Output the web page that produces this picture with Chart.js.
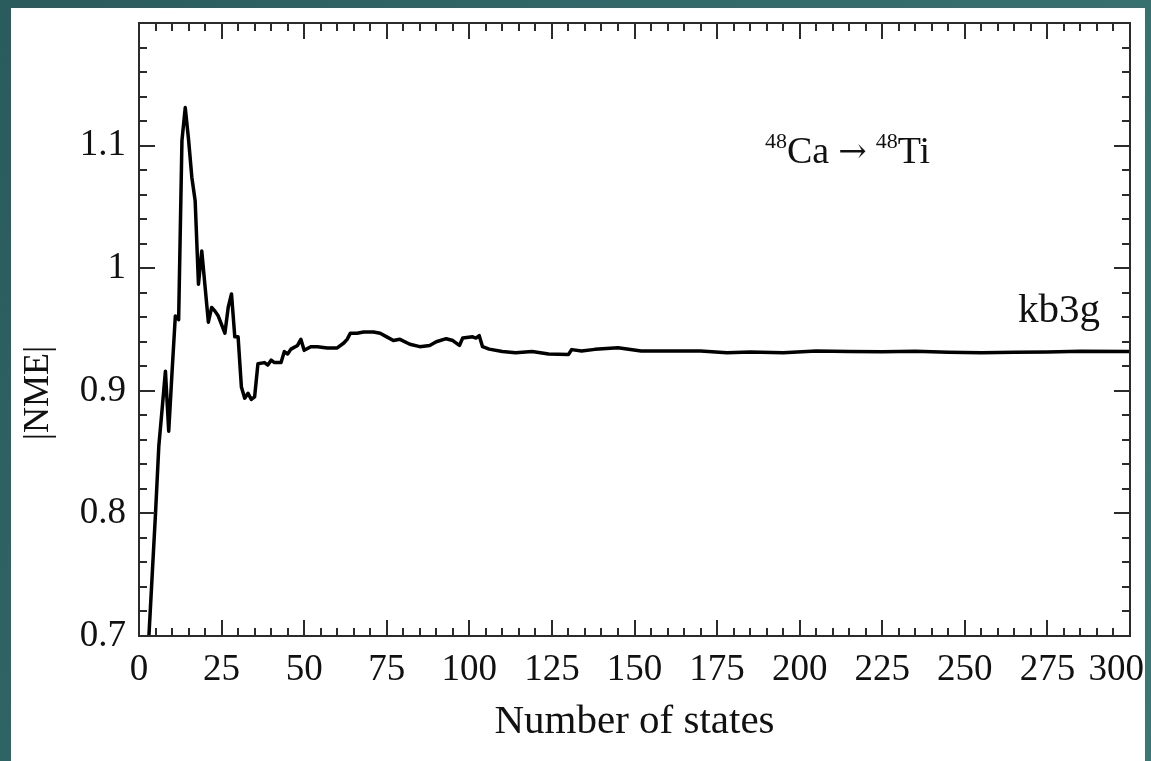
<!DOCTYPE html>
<html>
<head>
<meta charset="utf-8">
<script src="https://cdn.jsdelivr.net/npm/chart.js@4/dist/chart.umd.min.js"></script>
<style>
  html, body { margin: 0; padding: 0; }
  body {
    width: 1151px; height: 761px; overflow: hidden;
    background: linear-gradient(120deg, #2a5b5d 0%, #336b6b 50%, #3c7775 100%);
  }
  #panel { position: absolute; left: 11px; top: 8px; width: 1134px; height: 753px; background: #fff; }
</style>
</head>
<body>
<div id="panel"><canvas id="nmeChart" width="1134" height="753"></canvas></div>
<script>
// number of intermediate states vs |NME| (kb3g, 48Ca -> 48Ti)
var states = [2, 3, 4, 5, 6, 7, 8, 9, 10, 11, 12, 13, 14, 15, 16, 17, 18, 19, 20,
  21, 22, 23, 24, 25, 26, 27, 28, 29, 30, 31, 32, 33, 34, 35, 36, 38, 39, 40, 41,
  43, 44, 45, 46, 48, 49, 50, 52, 54, 57, 60, 62, 63, 64, 66, 68, 71, 73, 75, 77,
  79, 82, 85, 88, 90, 93, 95, 97, 98, 101, 102, 103, 104, 106, 110, 114, 119, 124,
  130, 131, 134, 138, 145, 152, 160, 170, 178, 185, 195, 205, 215, 225, 235, 245,
  255, 265, 275, 285, 300];
var nme = [0.65, 0.70, 0.75, 0.80, 0.855, 0.885, 0.916, 0.867, 0.915, 0.961, 0.958,
  1.104, 1.131, 1.105, 1.074, 1.055, 0.987, 1.014, 0.985, 0.956, 0.968, 0.965, 0.961,
  0.954, 0.947, 0.968, 0.979, 0.944, 0.944, 0.903, 0.894, 0.898, 0.893, 0.895, 0.922,
  0.923, 0.921, 0.925, 0.923, 0.923, 0.932, 0.930, 0.934, 0.937, 0.942, 0.933, 0.936,
  0.936, 0.935, 0.935, 0.939, 0.942, 0.947, 0.947, 0.948, 0.948, 0.947, 0.944, 0.941,
  0.942, 0.938, 0.936, 0.937, 0.940, 0.9425, 0.941, 0.937, 0.943, 0.944, 0.943, 0.945,
  0.936, 0.934, 0.932, 0.931, 0.932, 0.930, 0.9297, 0.9336, 0.9324, 0.9338, 0.9352,
  0.9324, 0.9324, 0.9324, 0.931, 0.9316, 0.931, 0.9325, 0.932, 0.9318, 0.9322, 0.9314,
  0.931, 0.9315, 0.9316, 0.9322, 0.932];

var xMin = 0, xMax = 300, xMajor = 25, xMinor = 5;
var yMin = 0.7, yMax = 1.2, yMajor = 0.1, yMinor = 0.02;

var serif = "'Liberation Serif', 'DejaVu Serif', serif";
var ink = "#2b2b2b";

var points = states.map(function (n, i) {
  return { x: n, y: nme[i] };
});

// frame with inward ticks on all four sides, plus the text annotations
var framePlugin = {
  id: "frame",
  afterDatasetsDraw: function (chart) {
    var ctx = chart.ctx;
    var a = chart.chartArea;
    var xs = chart.scales.x, ys = chart.scales.y;
    ctx.save();
    ctx.strokeStyle = ink;
    ctx.lineWidth = 2;
    ctx.strokeRect(a.left, a.top, a.right - a.left, a.bottom - a.top);
    ctx.lineWidth = 2;
    ctx.beginPath();
    for (var v = xMin; v <= xMax + 1e-9; v += xMinor) {
      var px = Math.round(xs.getPixelForValue(v));
      var len = (Math.round(v) % xMajor === 0) ? 16 : 8;
      ctx.moveTo(px, a.bottom); ctx.lineTo(px, a.bottom - len);
      ctx.moveTo(px, a.top); ctx.lineTo(px, a.top + len);
    }
    for (var k = 0; k <= Math.round((yMax - yMin) / yMinor); k++) {
      var yv = yMin + k * yMinor;
      var py = Math.round(ys.getPixelForValue(yv));
      var ylen = (k % 5 === 0) ? 16 : 8;
      ctx.moveTo(a.left, py); ctx.lineTo(a.left + ylen, py);
      ctx.moveTo(a.right, py); ctx.lineTo(a.right - ylen, py);
    }
    ctx.stroke();

    ctx.fillStyle = "#111";
    ctx.textBaseline = "alphabetic";
    ctx.textAlign = "left";
    // 48Ca -> 48Ti
    var x = 754, base = 155;
    ctx.font = "22px " + serif;
    ctx.fillText("48", x, base - 15); x += ctx.measureText("48").width;
    ctx.font = "38px " + serif;
    ctx.fillText("Ca", x, base); x += ctx.measureText("Ca").width + 9;
    ctx.font = "34px 'DejaVu Serif', serif";
    ctx.fillText("\u2192", x, base - 1); x += ctx.measureText("\u2192").width + 9;
    ctx.font = "22px " + serif;
    ctx.fillText("48", x, base - 15); x += ctx.measureText("48").width;
    ctx.font = "38px " + serif;
    ctx.fillText("Ti", x, base);

    ctx.font = "41px " + serif;
    ctx.fillText("kb3g", 1007, 314);

    ctx.translate(28, 385);
    ctx.rotate(-Math.PI / 2);
    ctx.textAlign = "center";
    ctx.textBaseline = "middle";
    ctx.font = "36px " + serif;
    ctx.fillText("|NME|", 0, 0);
    ctx.restore();
  }
};

new Chart("nmeChart", {
  type: "line",
  data: {
    datasets: [
      {
        data: points,
        borderColor: "#000",
        borderWidth: 3.5,
        borderJoinStyle: "round",
        pointRadius: 0,
        tension: 0,
        fill: false,
      },
    ],
  },
  options: {
    responsive: false,
    animation: false,
    layout: { padding: { top: 15, right: 15, bottom: 10, left: 0 } },
    plugins: { legend: { display: false }, tooltip: { enabled: false } },
    scales: {
      x: {
        type: "linear",
        min: xMin,
        max: xMax,
        grid: { display: false, drawTicks: false },
        border: { display: false },
        ticks: {
          stepSize: xMajor,
          autoSkip: false,
          maxRotation: 0,
          padding: 12,
          color: "#111",
          font: { family: serif, size: 37 },
          callback: function (v) {
            return v === 300 ? "300   " : String(v);
          },
        },
        title: {
          display: true,
          text: "Number of states",
          color: "#111",
          font: { family: serif, size: 41 },
        },
        afterFit: function (scale) {
          scale.height = 115;
          scale.paddingLeft = 0;
          scale.paddingRight = 0;
        },
      },
      y: {
        min: yMin,
        max: yMax,
        grid: { display: false, drawTicks: false },
        border: { display: false },
        ticks: {
          stepSize: yMajor,
          padding: 13,
          color: "#111",
          font: { family: serif, size: 37 },
          callback: function (v) {
            var r = Math.round(v * 100) / 100;
            return r > 1.15 ? "" : String(r);
          },
        },
        afterFit: function (scale) {
          scale.width = 128;
          scale.paddingTop = 0;
          scale.paddingBottom = 0;
        },
      },
    },
  },
  plugins: [framePlugin],
});
</script>
</body>
</html>
